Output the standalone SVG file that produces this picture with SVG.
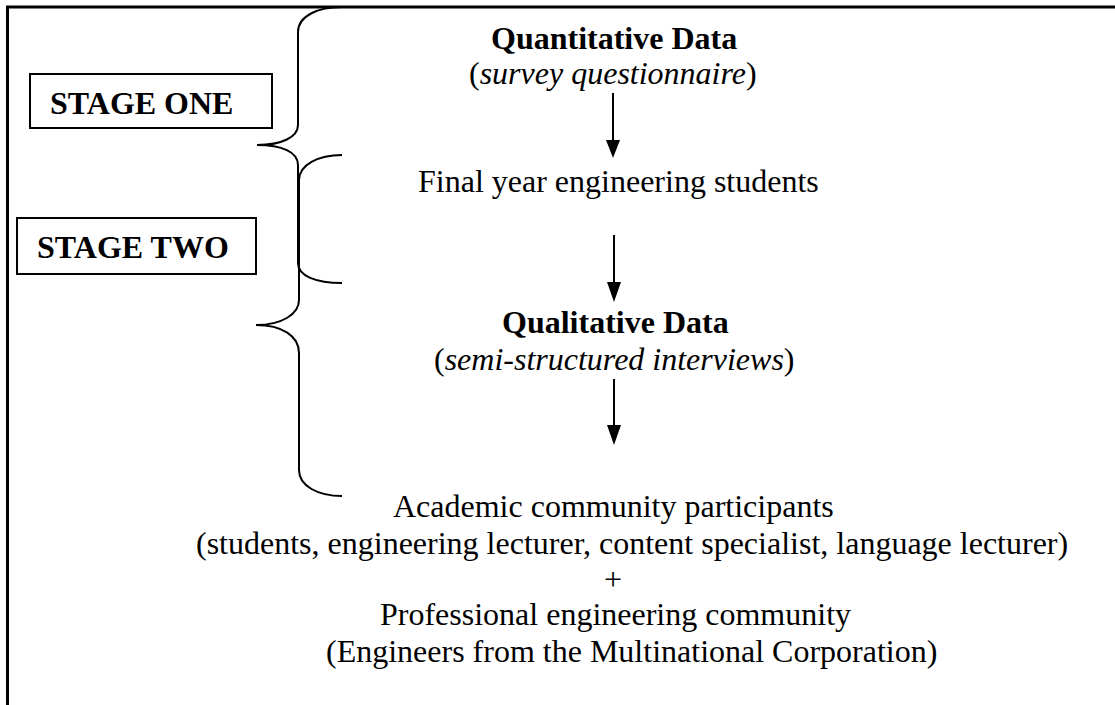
<svg xmlns="http://www.w3.org/2000/svg" width="1115" height="705" viewBox="0 0 1115 705">
<style>
.t{font-family:"Liberation Serif","Times New Roman",serif;font-size:32px;fill:#000}
.b{font-weight:bold}
.i{font-style:italic}
.frame{stroke:#000;stroke-width:3;fill:none}
.box{stroke:#000;stroke-width:2;fill:#fff}
.brace{stroke:#000;stroke-width:2;fill:none}
.shaft{stroke:#000;stroke-width:2;fill:none}
.head{fill:#000}
</style>
<rect width="1115" height="705" fill="#fff"/>
<g id="frame">
<line class="frame" x1="6" y1="7" x2="1115" y2="7"/>
<line class="frame" x1="7.5" y1="6" x2="7.5" y2="705"/>
</g>
<g id="braces">
<path class="brace" d="M342,7 C318,7 298,16 298,32 L298,125 C298,137 282,145 257,145 C282,145 298,152 298,165 L298,263 C298,276 316,283 342,283"/>
<path class="brace" d="M342,155 C318,155 299,165 299,180 L299,300 C299,314 282,325 256,325 C282,325 299,336 299,353 L299,470 C299,486 318,496 342,496"/>
</g>
<g id="stage-one">
<rect class="box" x="30" y="74" width="242" height="54"/>
<text class="t b" x="50" y="114">STAGE ONE</text>
</g>
<g id="stage-two">
<rect class="box" x="17" y="218" width="239" height="56"/>
<text class="t b" x="37" y="258">STAGE TWO</text>
</g>
<g id="quantitative">
<text class="t b" x="491" y="49">Quantitative Data</text>
<text class="t" x="469" y="84">(<tspan class="i">survey questionnaire</tspan>)</text>
</g>
<g id="final-year">
<text class="t" x="418" y="192">Final year engineering students</text>
</g>
<g id="qualitative">
<text class="t b" x="502" y="333">Qualitative Data</text>
<text class="t" x="434" y="370">(<tspan class="i">semi-structured interviews</tspan>)</text>
</g>
<g id="participants">
<text class="t" x="393" y="517">Academic community participants</text>
<text class="t" x="196" y="554">(students, engineering lecturer, content specialist, language lecturer)</text>
<text class="t" x="604" y="590">+</text>
<text class="t" x="380" y="625">Professional engineering community</text>
<text class="t" x="326" y="662">(Engineers from the Multinational Corporation)</text>
</g>
<g id="connectors">
<line class="shaft" x1="613" y1="93" x2="613" y2="141"/>
<polygon class="head" points="606,140 620,140 613,158"/>
<line class="shaft" x1="614" y1="235" x2="614" y2="283"/>
<polygon class="head" points="607,282 621,282 614,302"/>
<line class="shaft" x1="614" y1="379" x2="614" y2="426"/>
<polygon class="head" points="607,425 621,425 614,445"/>
</g>
</svg>
